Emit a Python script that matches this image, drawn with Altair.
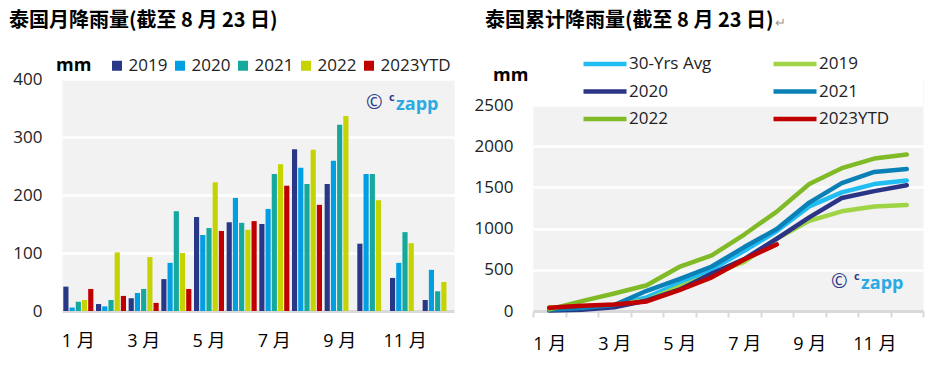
import altair as alt
import pandas as pd

# ---------------- data ----------------
months = ["1 月", "2 月", "3 月", "4 月", "5 月", "6 月",
          "7 月", "8 月", "9 月", "10 月", "11 月", "12 月"]
shown_month_labels = ["1 月", "3 月", "5 月", "7 月", "9 月", "11 月"]

bar_series = ["2019", "2020", "2021", "2022", "2023YTD"]
monthly_2019 = [42, 12, 22, 55, 162, 153, 150, 279, 219, 116, 57, 19]
monthly_2020 = [6, 8, 31, 83, 131, 195, 176, 247, 259, 236, 83, 71]
monthly_2021 = [16, 19, 38, 172, 143, 152, 236, 219, 321, 236, 136, 34]
monthly_2022 = [19, 101, 93, 100, 222, 140, 253, 278, 336, 191, 117, 50]
monthly_2023 = [38, 26, 14, 38, 138, 155, 216, 183]
bar_colors = ["#283887", "#009FE3", "#14A99C", "#C5D300", "#C00000"]

line_series = ["30-Yrs Avg", "2019", "2020", "2021", "2022", "2023YTD"]
cum_avg30 = [15, 35, 75, 165, 335, 505, 730, 970, 1270, 1440, 1540, 1585]
cum_2019 = [42, 54, 76, 131, 293, 446, 596, 875, 1094, 1210, 1267, 1286]
cum_2020 = [6, 14, 45, 128, 259, 454, 630, 877, 1136, 1372, 1455, 1526]
cum_2021 = [16, 35, 73, 245, 388, 540, 776, 995, 1316, 1552, 1688, 1722]
cum_2022 = [19, 120, 213, 313, 535, 675, 928, 1206, 1542, 1733, 1850, 1900]
cum_2023 = [38, 64, 78, 116, 254, 409, 625, 808]
line_colors = ["#20BDF3", "#9FD544", "#2B3586", "#0A80B6", "#80BB27", "#C00000"]

left_title = "泰国月降雨量(截至 8 月 23 日)"
right_title = "泰国累计降雨量(截至 8 月 23 日)"
unit_label = "mm"

left_ticks = [0, 100, 200, 300, 400]
right_ticks = [0, 500, 1000, 1500, 2000, 2500]

# ---------------- tables ----------------
bar_rows = []
for s, vals in zip(bar_series, [monthly_2019, monthly_2020, monthly_2021, monthly_2022, monthly_2023]):
    for m, v in zip(months, vals):
        bar_rows.append({"month": m, "series": s, "mm": v})
bar_df = pd.DataFrame(bar_rows)

line_rows = []
for s, vals in zip(line_series, [cum_avg30, cum_2019, cum_2020, cum_2021, cum_2022, cum_2023]):
    for m, v in zip(months, vals):
        line_rows.append({"month": m, "series": s, "mm": v})
line_df = pd.DataFrame(line_rows)

FONT = "Open Sans, Noto Sans CJK SC, sans-serif"
TITLE_FONT = "Noto Sans CJK SC, sans-serif"
W1, W2, H = 392, 390, 232
Y2_TOP = 2500 * H / 206.0

label_expr = "indexof(" + str(shown_month_labels) + ", datum.value) >= 0 ? datum.value : ''"


def text_layer(text, x, y, size, color="#000000", weight="normal", font=FONT):
    return alt.Chart(pd.DataFrame({"t": [text]})).mark_text(
        align="left", baseline="middle", fontSize=size, fontWeight=weight,
        color=color, font=font
    ).encode(x=alt.value(x), y=alt.value(y), text="t:N")


def watermark(x, y):
    return [
        text_layer("©", x, y, 20, color="#2E3A87"),
        text_layer("c", x + 23, y - 5, 11, color="#2E3A87", weight="bold"),
        text_layer("zapp", x + 30, y + 2, 18, color="#2AAAE2", weight="bold"),
    ]


# ---------------- left: monthly bars ----------------
bars = alt.Chart(bar_df).mark_bar().encode(
    x=alt.X("month:N", sort=months, title=None,
            scale=alt.Scale(paddingInner=0.08, paddingOuter=0.04),
            axis=alt.Axis(labelAngle=0, labelFontSize=18, labelColor="#000000", labelFont=FONT,
                          labelPadding=21, ticks=False, domainColor="#D9D9D9", domainWidth=3,
                          labelExpr=label_expr)),
    xOffset=alt.XOffset("series:N", sort=bar_series,
                        scale=alt.Scale(paddingInner=0.17, paddingOuter=0)),
    y=alt.Y("mm:Q", title=None, scale=alt.Scale(domain=[0, 400], nice=False),
            axis=alt.Axis(values=left_ticks, grid=True, gridColor="#FFFFFF", gridWidth=2.5,
                          domain=False, ticks=False, labelPadding=20, labelFontSize=17,
                          labelColor="#222222", labelFont=FONT, format="d")),
    color=alt.Color("series:N", sort=bar_series,
                    scale=alt.Scale(domain=bar_series, range=bar_colors),
                    legend=alt.Legend(title=None, orient="none", direction="horizontal",
                                      legendX=46.5, legendY=-22, symbolType="square",
                                      symbolSize=100, symbolStrokeWidth=0, labelOffset=3,
                                      columnPadding=4, padding=0, labelFontSize=17,
                                      labelFont=FONT, labelColor="#222222")),
)

left = alt.layer(
    bars,
    text_layer(left_title, -53, -58, 20, weight="bold", font=TITLE_FONT),
    text_layer(unit_label, -6, -13, 18, weight="bold"),
    *watermark(304, 24),
).properties(width=W1, height=H)

# ---------------- right: cumulative lines ----------------
x_right = alt.X("month:N", sort=months, title=None,
                scale=alt.Scale(type="band", paddingInner=0, paddingOuter=0),
                axis=alt.Axis(labelAngle=0, labelFontSize=18, labelColor="#000000", labelFont=FONT,
                              labelPadding=18, ticks=True, tickBand="extent", tickSize=6,
                              tickWidth=2, tickColor="#D9D9D9", domainColor="#D9D9D9",
                              domainWidth=3, labelExpr=label_expr))
y_right_scale = alt.Scale(domain=[0, Y2_TOP], nice=False)
y_right_axis = alt.Axis(values=right_ticks, grid=True, gridColor="#FFFFFF", gridWidth=2.5,
                        domain=False, ticks=False, labelPadding=20, labelFontSize=17,
                        labelColor="#222222", labelFont=FONT, format="d")
color_right = alt.Color("series:N", sort=line_series,
                        scale=alt.Scale(domain=line_series, range=line_colors),
                        legend=alt.Legend(title=None, orient="none", direction="horizontal",
                                          columns=2, legendX=48,
                                          legendY=-25, symbolType="stroke", symbolSize=1849,
                                          symbolStrokeWidth=4.5, labelOffset=0, columnPadding=59,
                                          rowPadding=7.5, clipHeight=20, gridAlign="all",
                                          padding=0, labelFontSize=17, labelFont=FONT,
                                          labelColor="#222222"))

mask = alt.Chart(pd.DataFrame({"lo": [2500], "hi": [Y2_TOP]})).mark_rect(color="#FFFFFF").encode(
    x=alt.value(0), x2=alt.value(W2),
    y=alt.Y("hi:Q", scale=y_right_scale, axis=y_right_axis, title=None), y2="lo:Q")

lines_main = alt.Chart(line_df[line_df.series != "2023YTD"]).mark_line(
    strokeWidth=4.5, strokeCap="round", strokeJoin="round").encode(
    x=x_right, y=alt.Y("mm:Q", scale=y_right_scale, title=None), color=color_right)
lines_ytd = alt.Chart(line_df[line_df.series == "2023YTD"]).mark_line(
    strokeWidth=4.5, strokeCap="round", strokeJoin="round").encode(
    x=x_right, y=alt.Y("mm:Q", scale=y_right_scale, title=None), color=color_right)

right = alt.layer(
    mask, lines_main, lines_ytd,
    text_layer(right_title, -48, -58, 20, weight="bold", font=TITLE_FONT),
    text_layer("↵", 242, -56, 13, color="#999999"),
    text_layer(unit_label, -40, -3, 18, weight="bold"),
    *watermark(298, 203),
).properties(width=W2, height=H)

chart = alt.hconcat(left, right, spacing=79, bounds="flush").resolve_scale(
    color="independent", x="independent", y="independent", xOffset="independent"
).resolve_legend(color="independent").configure_view(
    fill="#F2F2F2", stroke="transparent"
).properties(padding={"left": 0, "top": 2, "right": 0, "bottom": 0})

chart.save("out.html", embed_options={"renderer": "svg", "actions": False})
